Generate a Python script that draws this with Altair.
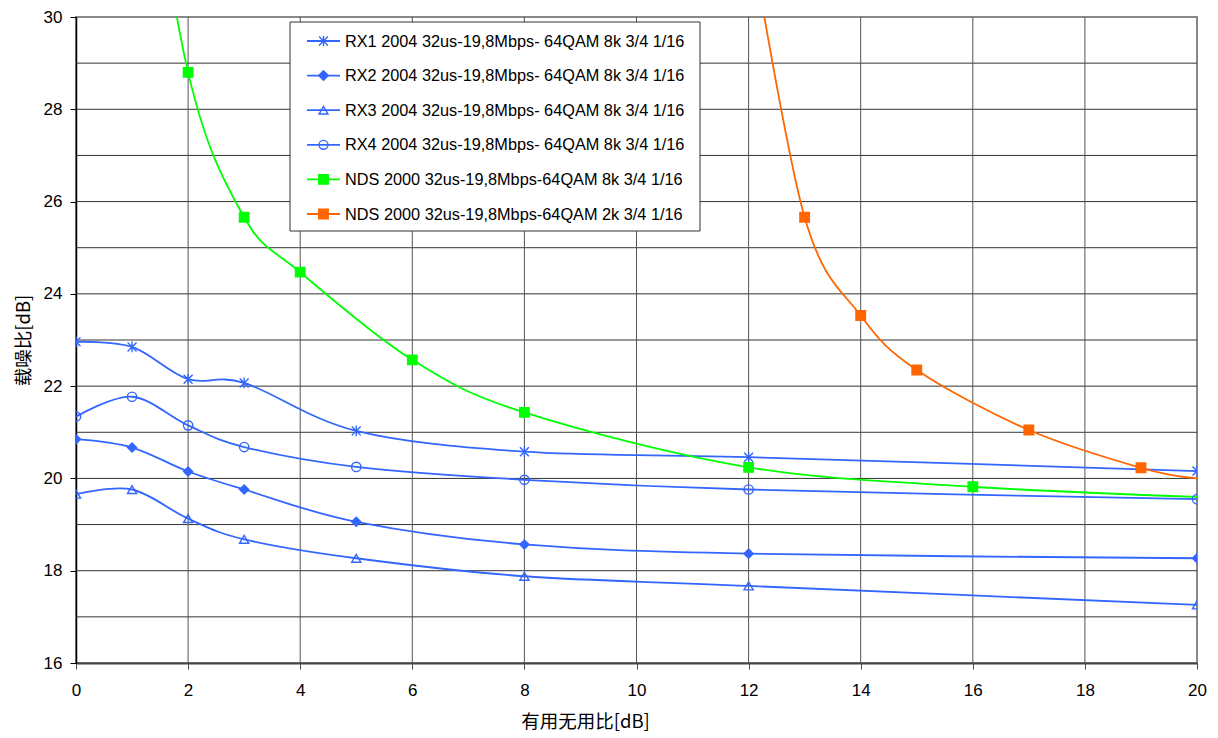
import altair as alt
import pandas as pd

# ---- measured values ----
x_rx = [0, 1, 2, 3, 5, 8, 12, 20]
rx1 = [22.96, 22.85, 22.15, 22.07, 21.03, 20.58, 20.46, 20.16]
rx2 = [20.85, 20.67, 20.15, 19.76, 19.06, 18.57, 18.37, 18.27]
rx3 = [19.66, 19.76, 19.13, 18.68, 18.27, 17.88, 17.67, 17.26]
rx4 = [21.34, 21.77, 21.15, 20.68, 20.25, 19.97, 19.76, 19.55]

x_nds8k = [1, 2, 3, 4, 6, 8, 12, 16, 20]
nds8k = [36.0, 28.80, 25.66, 24.47, 22.57, 21.43, 20.24, 19.82, 19.60]
nds8k_marker = [True, True, True, True, True, True, True, True, False]

x_nds2k = [12, 13, 14, 15, 17, 19, 20]
nds2k = [32.0, 25.66, 23.53, 22.35, 21.05, 20.23, 20.00]
nds2k_marker = [True, True, True, True, True, True, False]

names = [
    "RX1 2004 32us-19,8Mbps- 64QAM 8k 3/4 1/16",
    "RX2 2004 32us-19,8Mbps- 64QAM 8k 3/4 1/16",
    "RX3 2004 32us-19,8Mbps- 64QAM 8k 3/4 1/16",
    "RX4 2004 32us-19,8Mbps- 64QAM 8k 3/4 1/16",
    "NDS 2000 32us-19,8Mbps-64QAM 8k 3/4 1/16",
    "NDS 2000 32us-19,8Mbps-64QAM 2k 3/4 1/16",
]
blue = "#3366FF"
colors = [blue, blue, blue, blue, "#00FF00", "#FF6600"]
fills = ["transparent", blue, "transparent", "transparent", "#00FF00", "#FF6600"]
asterisk = "M-1,-1L1,1M-1,1L1,-1M0,-1.2L0,1.2"
shapes = [asterisk, "diamond", "triangle-up", "circle", "square", "square"]
sizes = [80, 90, 80, 80, 90, 90]

x_ticks = list(range(0, 21, 2))
y_ticks = list(range(16, 31, 2))
h_grid = list(range(17, 30))
v_grid = list(range(2, 20, 2))

# ---- long table ----
rows = []
for name, ys in zip(names[:4], [rx1, rx2, rx3, rx4]):
    for xv, yv in zip(x_rx, ys):
        rows.append({"series": name, "x": xv, "y": yv, "marker": True})
for xv, yv, m in zip(x_nds8k, nds8k, nds8k_marker):
    rows.append({"series": names[4], "x": xv, "y": yv, "marker": m})
for xv, yv, m in zip(x_nds2k, nds2k, nds2k_marker):
    rows.append({"series": names[5], "x": xv, "y": yv, "marker": m})
df = pd.DataFrame(rows)

W, H = 1121, 646
FONT = "Liberation Sans"
CJK = "Noto Sans CJK SC"

xscale = alt.Scale(domain=[0, 20], nice=False, zero=False)
yscale = alt.Scale(domain=[16, 30], nice=False, zero=False)

xaxis = alt.Axis(values=x_ticks, grid=False, tickSize=6, tickColor="#444",
                 domainColor="#444", domainWidth=2, labelFont=FONT,
                 labelFontSize=17, labelColor="#000", labelPadding=13,
                 labelFlush=False,
                 title="有用无用比[dB]", titleFont=CJK, titleFontSize=18.5,
                 titleFontWeight="normal", titleColor="#000", titlePadding=14,
                 titleX=509)
yaxis = alt.Axis(values=y_ticks, grid=False, tickSize=6, tickColor="#000",
                 domainColor="#000", domainWidth=1.5, labelFont=FONT,
                 labelFontSize=17, labelColor="#000", labelPadding=8,
                 labelFlush=False,
                 title="载噪比[dB]", titleFont=CJK, titleFontSize=18.5,
                 titleFontWeight="normal", titleColor="#000", titlePadding=10)

hgrid = alt.Chart(pd.DataFrame({"g": h_grid})).mark_rule(
    color="#333", strokeWidth=1).encode(y=alt.Y("g:Q", scale=yscale, axis=yaxis))
vgrid = alt.Chart(pd.DataFrame({"g": v_grid})).mark_rule(
    color="#555", strokeWidth=1).encode(x=alt.X("g:Q", scale=xscale, axis=xaxis))

color_scale = alt.Scale(domain=names, range=colors)

lines = alt.Chart(df).mark_line(interpolate="cardinal", strokeWidth=1.8, clip=True).encode(
    x=alt.X("x:Q", scale=xscale, axis=xaxis),
    y=alt.Y("y:Q", scale=yscale, axis=yaxis),
    color=alt.Color("series:N", scale=color_scale, legend=None),
    order=alt.Order("x:Q"),
)

points = alt.Chart(df).transform_filter("datum.marker").mark_point(
    filled=False, strokeWidth=1.4, opacity=1, clip=True).encode(
    x=alt.X("x:Q", scale=xscale, axis=xaxis),
    y=alt.Y("y:Q", scale=yscale, axis=yaxis),
    shape=alt.Shape("series:N", scale=alt.Scale(domain=names, range=shapes), legend=None),
    stroke=alt.Stroke("series:N", scale=color_scale, legend=None),
    fill=alt.Fill("series:N", scale=alt.Scale(domain=names, range=fills), legend=None),
    size=alt.Size("series:N", scale=alt.Scale(domain=names, range=sizes), legend=None),
)

# ---- legend box drawn inside the plot ----
one = alt.Data(values=[{}])
LX0, LX1, LY0, LY1 = 214, 624, 5, 214
box = alt.Chart(one).mark_rect(fill="white", stroke="#333", strokeWidth=1).encode(
    x=alt.value(LX0), x2=alt.value(LX1), y=alt.value(LY0), y2=alt.value(LY1))
legend_layers = [box]
for i, name in enumerate(names):
    yy = 24 + i * 34.6
    legend_layers.append(alt.Chart(one).mark_rule(color=colors[i], strokeWidth=1.8).encode(
        x=alt.value(231), x2=alt.value(264), y=alt.value(yy)))
    legend_layers.append(alt.Chart(one).mark_point(
        shape=shapes[i], size=sizes[i], stroke=colors[i], fill=fills[i],
        filled=False, strokeWidth=1.4, opacity=1).encode(
        x=alt.value(247.5), y=alt.value(yy)))
    legend_layers.append(alt.Chart(one).mark_text(
        align="left", baseline="middle", font=FONT, fontSize=16.3, color="#000").encode(
        x=alt.value(269), y=alt.value(yy + 0.5), text=alt.value(name)))

chart = alt.layer(hgrid, vgrid, lines, points, *legend_layers).properties(
    width=W, height=H,
    autosize=alt.AutoSizeParams(type="none"),
    padding={"left": 76, "top": 17, "right": 21, "bottom": 75},
    background="white",
).configure_view(stroke="#888", strokeWidth=2)

chart.save("out.html", embed_options={"renderer": "svg", "actions": False})
